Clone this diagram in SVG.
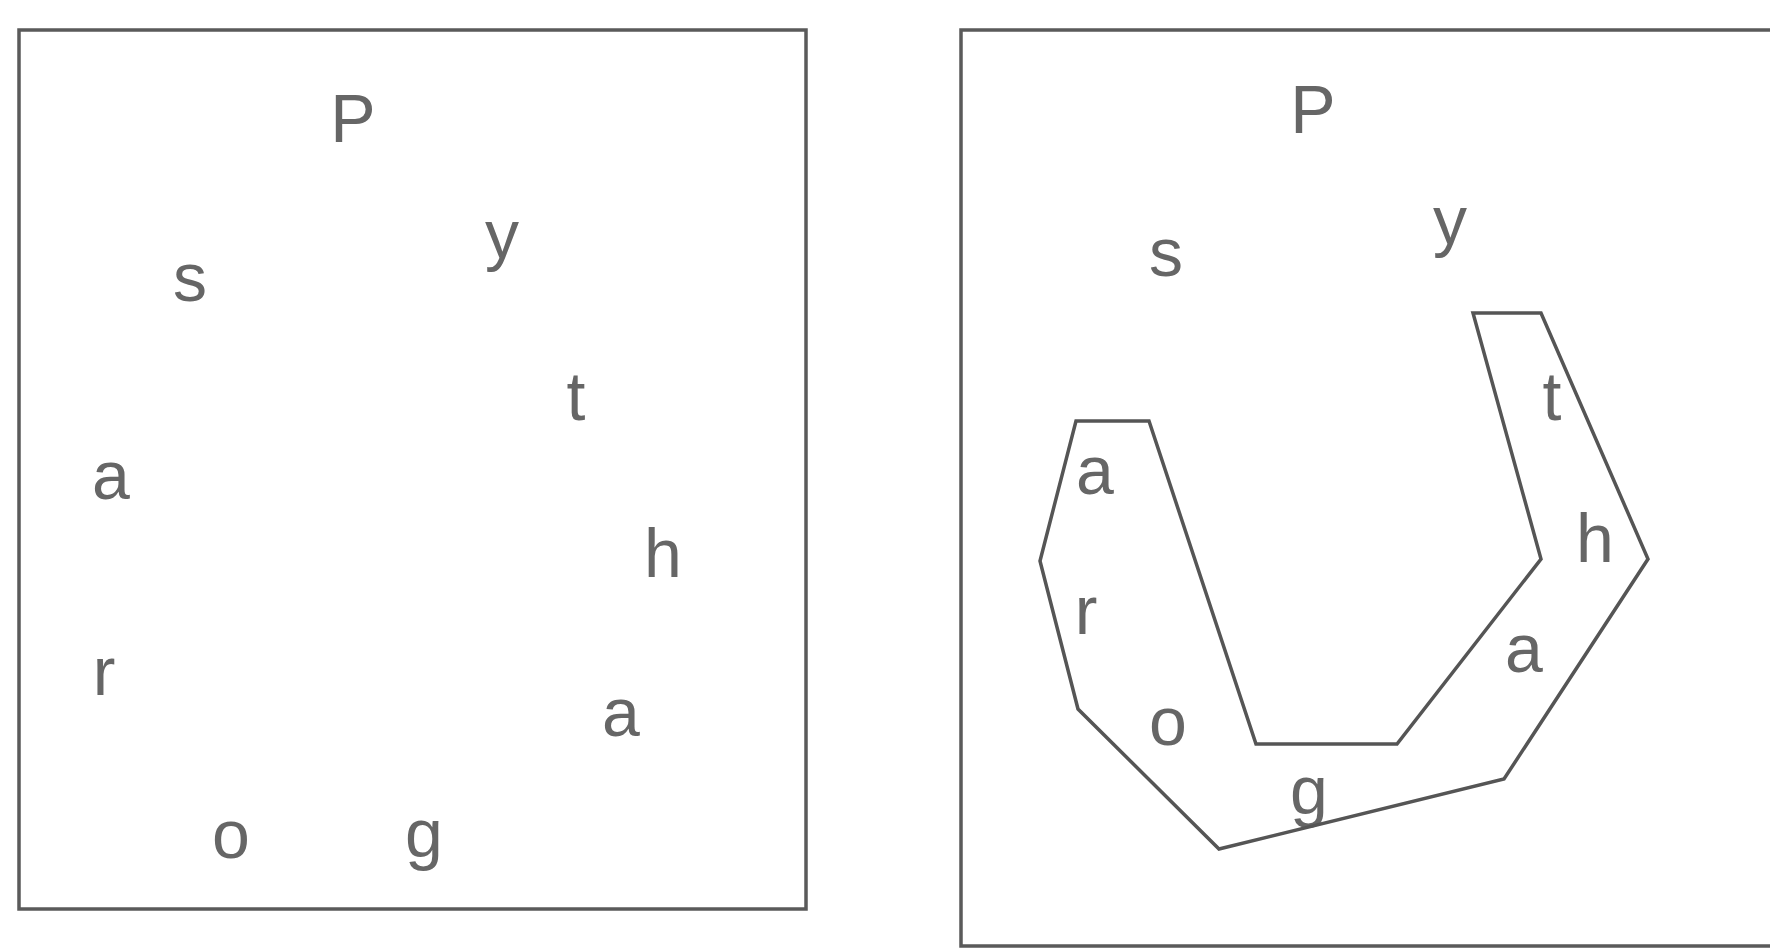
<svg xmlns="http://www.w3.org/2000/svg" width="1770" height="950" viewBox="0 0 1770 950">
<style>
.frame{fill:none;stroke:#5a5a5a;stroke-width:3.5}
.shape{fill:none;stroke:#555;stroke-width:3.5;stroke-linejoin:miter}
.l{font-family:"Liberation Sans",Arial,sans-serif;font-size:68px;fill:#666;text-anchor:middle}
</style>
<rect width="1770" height="950" fill="#fff"/>
<g id="left-panel">
<rect class="frame" x="19" y="30" width="787" height="879"/>
<text class="l" x="353" y="142">P</text>
<text class="l" x="502" y="258">y</text>
<text class="l" x="190" y="301">s</text>
<text class="l" x="576" y="420">t</text>
<text class="l" x="111" y="499">a</text>
<text class="l" x="663" y="577">h</text>
<text class="l" x="104" y="695">r</text>
<text class="l" x="621" y="736">a</text>
<text class="l" x="231" y="858">o</text>
<text class="l" x="424" y="857">g</text>
</g>
<g id="right-panel">
<path class="frame" d="M1770 30 H961 V946 H1770"/>
<text class="l" x="1313" y="133">P</text>
<text class="l" x="1450" y="244">y</text>
<text class="l" x="1166" y="276">s</text>
<text class="l" x="1552" y="420">t</text>
<text class="l" x="1095" y="494">a</text>
<text class="l" x="1595" y="562">h</text>
<text class="l" x="1086" y="634">r</text>
<text class="l" x="1524" y="672">a</text>
<text class="l" x="1168" y="745">o</text>
<text class="l" x="1309" y="814">g</text>
</g>
<g id="connectors">
<polygon class="shape" points="1076,421 1149,421 1256,744 1397,744 1541,559 1473,313 1541,313 1648,559 1504,779 1219,849 1078,709 1040,561"/>
</g>
</svg>
